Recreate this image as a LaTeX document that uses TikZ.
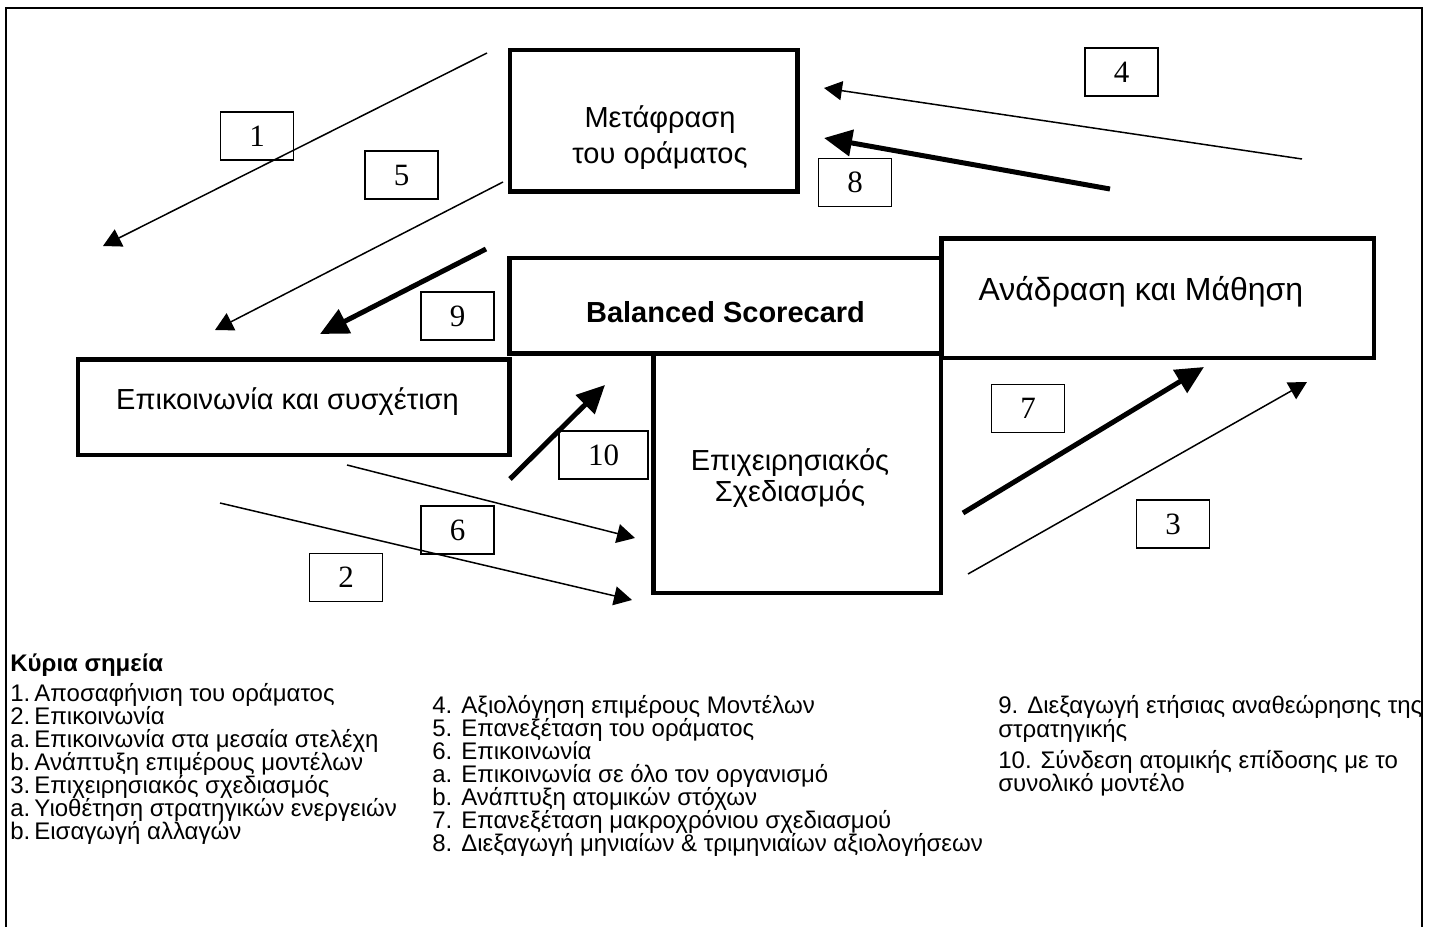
\documentclass[tikz,border=0pt]{standalone}
\usepackage{fontspec}
\setmainfont{Liberation Sans}
\newfontfamily\numfont{Liberation Serif}
\usetikzlibrary{arrows.meta}
\begin{document}
\begin{tikzpicture}[x=0.5pt,y=-0.5pt,
  stagebox/.style={draw,line width=2.25pt,inner sep=0pt,outer sep=0pt},
  boxtext/.style={inner sep=0pt,anchor=base,font=\fontsize{14.5}{17}\selectfont},
  numbox/.style={draw,line width=0.75pt,minimum width=36.5pt,minimum height=24pt,
    inner sep=0pt,font=\numfont\fontsize{15.5}{15.5}\selectfont},
  thinarrow/.style={line width=0.75pt,-{Triangle[length=9pt,width=9.5pt]}},
  thickarrow/.style={line width=2.5pt,-{Triangle[length=14pt,width=13pt]}},
  listtext/.style={inner sep=0pt,anchor=base west,font=\fontsize{12}{11.5}\selectfont}]
\useasboundingbox (0,0) rectangle (1432,927);
\fill[white] (0,0) rectangle (1432,927);

% outer frame (open at the bottom)
\draw[line width=1pt] (5.5,927) -- (5.5,8) -- (1421.5,8) -- (1421.5,927);

% stage boxes
\node[stagebox,minimum width=143.75pt,minimum height=70.75pt] (vision) at (653.75,120.75) {};
\node[stagebox,minimum width=216pt,minimum height=47.75pt] (bsc) at (725.5,305.75) {};
\node[stagebox,minimum width=215.75pt,minimum height=47.75pt] (comm) at (293.75,407.25) {};
\node[stagebox,minimum width=143.75pt,minimum height=119.75pt] (plan) at (797.25,473.25) {};
\node[stagebox,minimum width=216.25pt,minimum height=59.75pt] (feedback) at (1157.75,298.25) {};

% stage titles
\node[boxtext] (vision-a) at (660,127) {Μετάφραση};
\node[boxtext] (vision-b) at (660,163) {του οράματος};
\node[boxtext] (bsc-t) at (725.5,322) {\bfseries Balanced Scorecard};
\node[boxtext,font=\fontsize{16}{19}\selectfont] (feedback-t) at (1141,300) {Ανάδραση και Μάθηση};
\node[boxtext] (comm-t) at (287.5,409) {Επικοινωνία και συσχέτιση};
\node[boxtext] (plan-a) at (790,470) {Επιχειρησιακός};
\node[boxtext] (plan-b) at (790,501) {Σχεδιασμός};

% arrow end points
\coordinate (p1s) at (487,53);   \coordinate (p1e) at (103,246);
\coordinate (p5s) at (503,182);  \coordinate (p5e) at (215,330);
\coordinate (p9s) at (486,249);  \coordinate (p9e) at (320,334);
\coordinate (p4s) at (1302,159); \coordinate (p4e) at (824,88);
\coordinate (p8s) at (1110,189); \coordinate (p8e) at (824,138);
\coordinate (p10s) at (510,479); \coordinate (p10e) at (605,385);
\coordinate (p6s) at (347,465);  \coordinate (p6e) at (635,538);
\coordinate (p2s) at (220,503);  \coordinate (p2e) at (632,600);
\coordinate (p7s) at (963,513);  \coordinate (p7e) at (1204,367);
\coordinate (p3s) at (968,574);  \coordinate (p3e) at (1307,382);

% arrows
\draw[thinarrow] (p1s) -- (p1e);
\draw[thinarrow] (p5s) -- (p5e);
\draw[thickarrow] (p9s) -- (p9e);
\draw[thinarrow] (p4s) -- (p4e);
\draw[thickarrow] (p8s) -- (p8e);
\draw[thickarrow] (p10s) -- (p10e);
\draw[thinarrow] (p6s) -- (p6e);
\draw[thinarrow] (p2s) -- (p2e);
\draw[thickarrow] (p7s) -- (p7e);
\draw[thinarrow] (p3s) -- (p3e);

% step numbers
\node[numbox] (n1) at (257,136) {1};
\node[numbox] (n5) at (401.5,175) {5};
\node[numbox] (n9) at (457.5,316) {9};
\node[numbox] (n4) at (1121.5,72) {4};
\node[numbox] (n8) at (855,182.5) {8};
\node[numbox,minimum width=44.5pt] (n10) at (603.5,455) {10};
\node[numbox] (n6) at (457.5,530) {6};
\node[numbox] (n2) at (346,577.5) {2};
\node[numbox] (n7) at (1028,408.5) {7};
\node[numbox] (n3) at (1173,524) {3};

% legend
\foreach \y/\t [count=\i] in {
  671/{\textbf{Κύρια σημεία}},
  701/{1.\,Αποσαφήνιση του οράματος},
  724/{2.\,Επικοινωνία},
  747/{a.\,Επικοινωνία στα μεσαία στελέχη},
  770/{b.\,Ανάπτυξη επιμέρους μοντέλων},
  793/{3.\,Επιχειρησιακός σχεδιασμός},
  816/{a.\,Υιοθέτηση στρατηγικών ενεργειών},
  839/{b.\,Εισαγωγή αλλαγών}}
  \node[listtext] (ka-\i) at (10,\y) {\t};
\foreach \y/\t [count=\i] in {
  713/{4. Αξιολόγηση επιμέρους Μοντέλων},
  736/{5. Επανεξέταση του οράματος},
  759/{6. Επικοινωνία},
  782/{a. Επικοινωνία σε όλο τον οργανισμό},
  805/{b. Ανάπτυξη ατομικών στόχων},
  828/{7. Επανεξέταση μακροχρόνιου σχεδιασμού},
  851/{8. Διεξαγωγή μηνιαίων \& τριμηνιαίων αξιολογήσεων}}
  \node[listtext] (kb-\i) at (432,\y) {\t};
\foreach \y/\t [count=\i] in {
  713/{9. Διεξαγωγή ετήσιας αναθεώρησης της},
  737/{στρατηγικής},
  768/{10. Σύνδεση ατομικής επίδοσης με το},
  791/{συνολικό μοντέλο}}
  \node[listtext] (kc-\i) at (998,\y) {\t};
\end{tikzpicture}
\end{document}
